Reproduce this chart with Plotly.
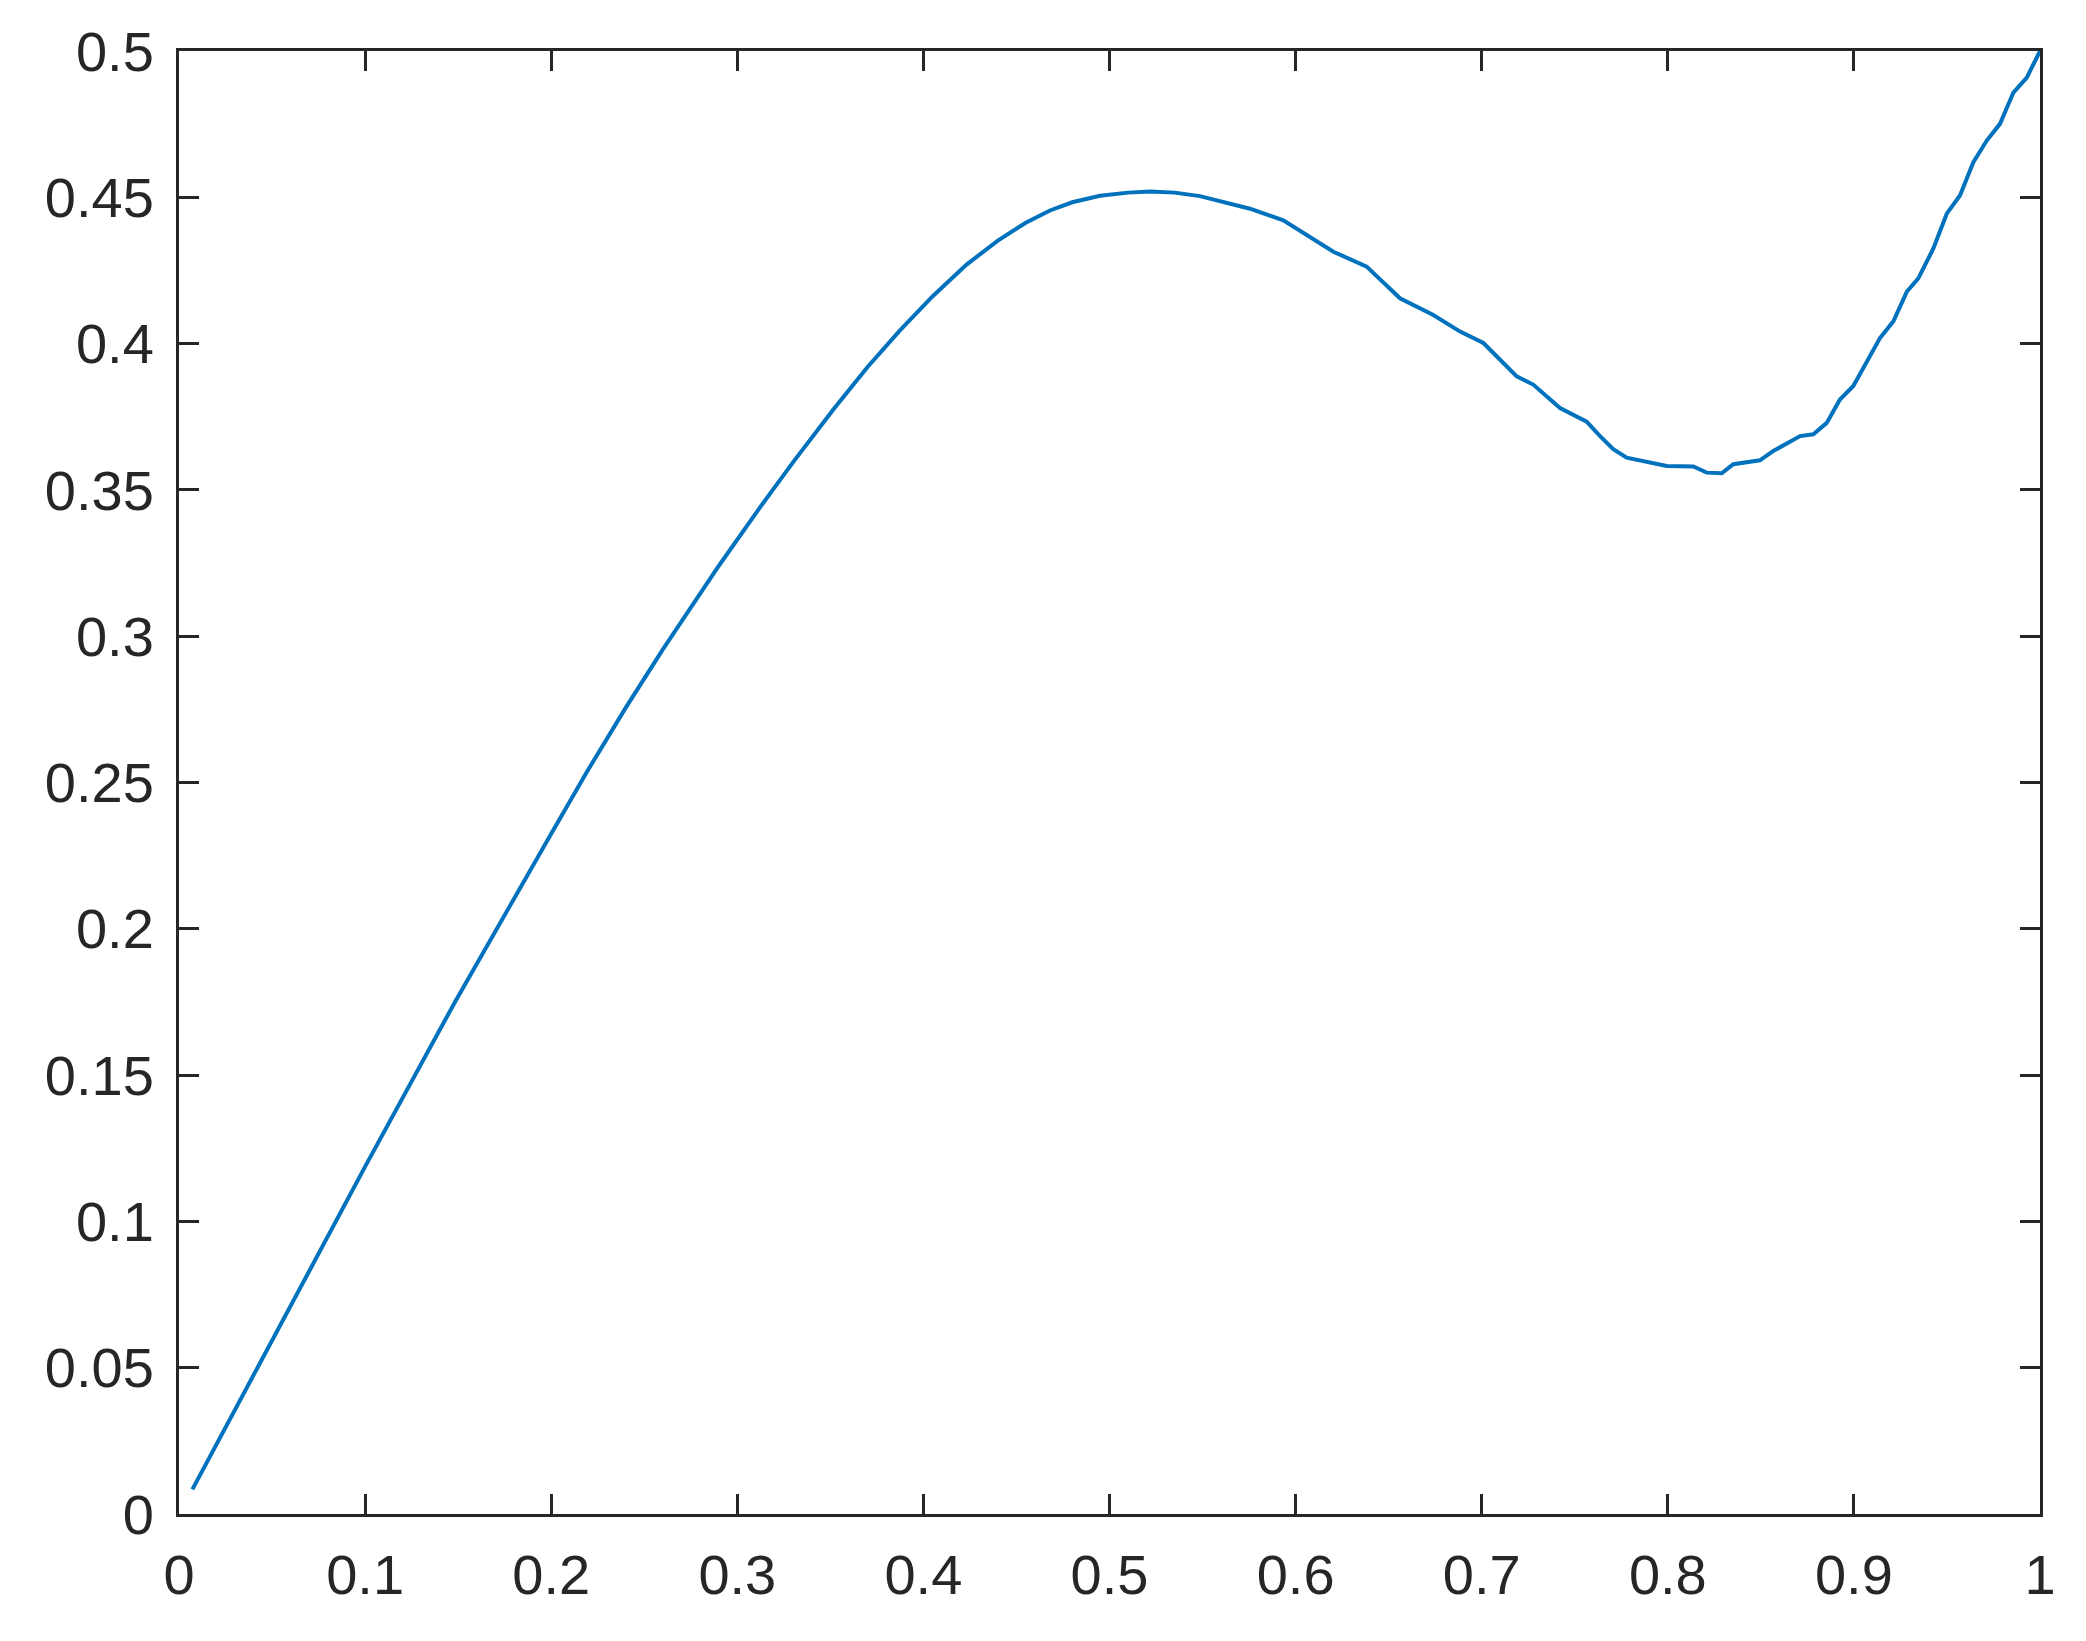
import plotly.graph_objects as go

x_vals = [0.0072, 0.0500, 0.1000, 0.1483, 0.1700, 0.2000, 0.2200, 0.2400, 0.2600, 0.2755,
          0.2900, 0.3122, 0.3300, 0.3516, 0.3700, 0.3874, 0.4050, 0.4232, 0.4400, 0.4550,
          0.4680, 0.4800, 0.4949, 0.5100, 0.5218, 0.5350, 0.5486, 0.5755, 0.5934, 0.6203,
          0.6382, 0.6561, 0.6740, 0.6884, 0.7009, 0.7188, 0.7277, 0.7421, 0.7564, 0.7636,
          0.7707, 0.7779, 0.7994, 0.8137, 0.8209, 0.8290, 0.8352, 0.8495, 0.8567, 0.8711,
          0.8782, 0.8854, 0.8925, 0.8997, 0.9140, 0.9212, 0.9284, 0.9346, 0.9427, 0.9499,
          0.9570, 0.9642, 0.9714, 0.9785, 0.9857, 0.9929, 1.0000]
y_vals = [0.0084, 0.0590, 0.1187, 0.1750, 0.1993, 0.2325, 0.2545, 0.2755, 0.2955, 0.3105,
          0.3240, 0.3440, 0.3595, 0.3775, 0.3920, 0.4045, 0.4162, 0.4270, 0.4352, 0.4413,
          0.4455, 0.4483, 0.4505, 0.4516, 0.4520, 0.4516, 0.4504, 0.4461, 0.4421, 0.4314,
          0.4263, 0.4155, 0.4098, 0.4041, 0.4002, 0.3888, 0.3860, 0.3780, 0.3733, 0.3684,
          0.3639, 0.3610, 0.3582, 0.3580, 0.3559, 0.3557, 0.3588, 0.3601, 0.3633, 0.3684,
          0.3690, 0.3729, 0.3809, 0.3855, 0.4019, 0.4076, 0.4177, 0.4223, 0.4325, 0.4444,
          0.4506, 0.4620, 0.4694, 0.4751, 0.4858, 0.4909, 0.5000]

x_ticks = [0, 0.1, 0.2, 0.3, 0.4, 0.5, 0.6, 0.7, 0.8, 0.9, 1]
x_tick_text = ["0", "0.1", "0.2", "0.3", "0.4", "0.5", "0.6", "0.7", "0.8", "0.9", "1"]
y_ticks = [0, 0.05, 0.1, 0.15, 0.2, 0.25, 0.3, 0.35, 0.4, 0.45, 0.5]
y_tick_text = ["0", "0.05", "0.1", "0.15", "0.2", "0.25", "0.3", "0.35", "0.4", "0.45", "0.5"]

AX = "#262626"

fig = go.Figure()
fig.add_trace(go.Scatter(x=x_vals, y=y_vals, mode="lines",
                         line=dict(color="#0072BD", width=4), showlegend=False))

axis_style = dict(showline=True, linecolor=AX, linewidth=3, mirror="ticks",
                  ticks="inside", ticklen=20, tickwidth=3, tickcolor=AX,
                  showgrid=False, zeroline=False,
                  tickfont=dict(family="Liberation Sans, Arial, sans-serif", size=56, color=AX))

fig.update_xaxes(range=[0, 1], tickvals=x_ticks, ticktext=x_tick_text,
                 ticklabelstandoff=10, **axis_style)
fig.update_yaxes(range=[0, 0.5], tickvals=y_ticks, ticktext=y_tick_text,
                 ticklabelstandoff=11, **axis_style)

# page body adds an 8px offset, so margins are trimmed to keep the axes in place
fig.update_layout(width=2086, height=1641,
                  margin=dict(l=171, r=54, t=37, b=135),
                  paper_bgcolor="white", plot_bgcolor="white")

fig.write_html("out.html")
